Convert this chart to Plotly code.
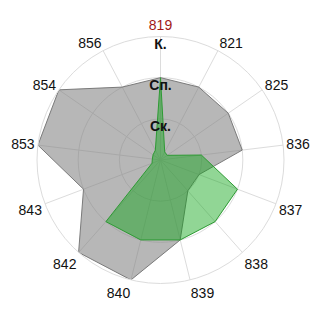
import plotly.graph_objects as go

categories = ["819", "821", "825", "836", "837", "838", "839", "840", "842", "843", "853", "854", "856"]
gray_values = [2, 2, 2, 2, 1, 1, 2, 3, 3, 2, 3, 3, 2]
green_values = [2, 0.22, 0.2, 1, 2, 2, 2, 2, 2, 0.22, 0.2, 0.22, 0.27]
level_values = [1, 2, 3]
level_labels = ["Ск.", "Сп.", "К."]
highlight = "819"

def label(c):
    if c == highlight:
        return '<span style="color:#a01818">' + c + '</span>'
    return c

theta = [label(c) for c in categories]

fig = go.Figure()
fig.add_trace(go.Scatterpolar(
    r=gray_values + gray_values[:1], theta=theta + theta[:1],
    mode="lines", fill="toself",
    fillcolor="rgba(128,128,128,0.57)",
    line=dict(color="#7a7a7a", width=1),
    hoverinfo="skip", showlegend=False,
))
fig.add_trace(go.Scatterpolar(
    r=green_values + green_values[:1], theta=theta + theta[:1],
    mode="lines", fill="toself",
    fillcolor="rgba(10,165,20,0.45)",
    line=dict(color="#2e9a34", width=1),
    hoverinfo="skip", showlegend=False,
))
fig.add_trace(go.Scatterpolar(
    r=[v - 0.22 for v in level_values], theta=[theta[0]] * len(level_values),
    mode="text", text=["<b>" + t + "</b>" for t in level_labels],
    textposition="middle center",
    textfont=dict(family="Liberation Sans, Arial, sans-serif", size=14, color="#111111"),
    hoverinfo="skip", showlegend=False,
))

fig.update_layout(
    width=320, height=320,
    margin=dict(l=36.5, r=35.5, t=36, b=36),
    paper_bgcolor="white",
    font=dict(family="Liberation Sans, Arial, sans-serif", size=14, color="#111111"),
    polar=dict(
        bgcolor="white",
        domain=dict(x=[0, 1], y=[0, 1]),
        angularaxis=dict(
            direction="clockwise", rotation=90,
            categoryorder="array", categoryarray=theta,
            showline=True, linecolor="#dcdcdc", linewidth=1,
            gridcolor="#dcdcdc", gridwidth=1,
            ticks="", tickfont=dict(size=14, color="#111111"),
            layer="above traces",
        ),
        radialaxis=dict(
            range=[0, 3], tickvals=level_values,
            showticklabels=False, ticks="", showline=False,
            gridcolor="#dcdcdc", gridwidth=1,
            layer="above traces",
        ),
    ),
)

fig.write_html("out.html")
